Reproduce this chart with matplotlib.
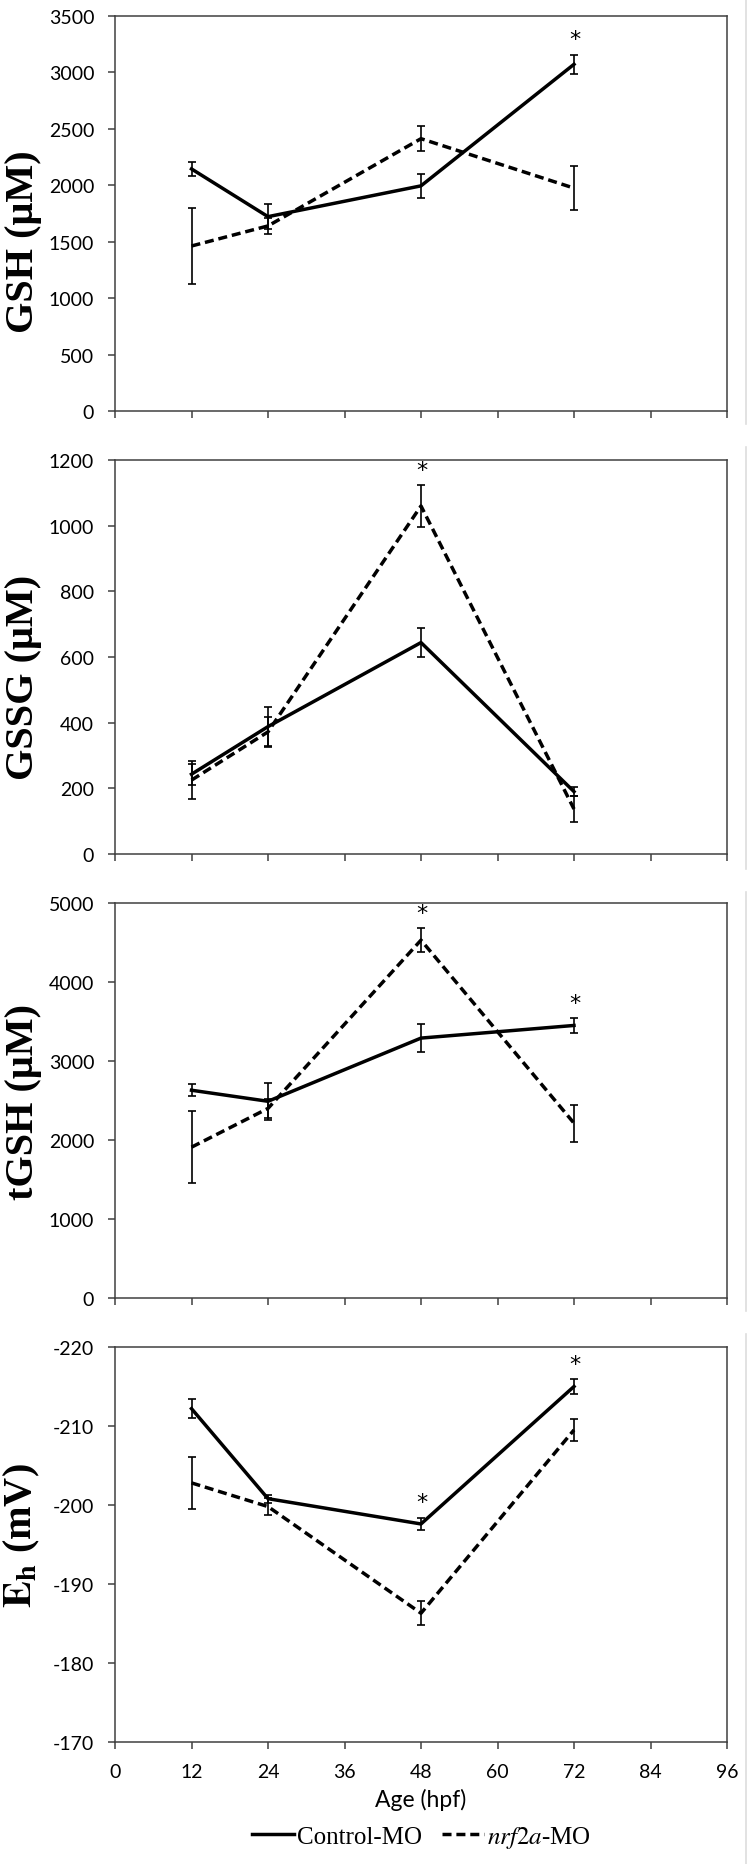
import matplotlib
matplotlib.use("Agg")
import matplotlib.pyplot as plt
from matplotlib.lines import Line2D

plt.rcParams['mathtext.fontset'] = 'stix'

# hours post fertilization
ages = [12, 24, 48, 72]

# GSH (uM)
gsh_ctrl = [2145, 1722, 1995, 3072]
gsh_ctrl_err = [65, 110, 105, 85]
gsh_nrf = [1462, 1640, 2413, 1975]
gsh_nrf_err = [340, 70, 113, 198]

# GSSG (uM)
gssg_ctrl = [243, 388, 644, 190]
gssg_ctrl_err = [32, 60, 44, 13]
gssg_nrf = [225, 372, 1060, 137]
gssg_nrf_err = [58, 45, 63, 40]

# tGSH (uM)
tgsh_ctrl = [2630, 2490, 3290, 3450]
tgsh_ctrl_err = [76, 235, 180, 93]
tgsh_nrf = [1909, 2400, 4530, 2213]
tgsh_nrf_err = [452, 120, 150, 232]

# Eh (mV)
eh_ctrl = [-212.2, -200.8, -197.6, -215.0]
eh_ctrl_err = [1.2, 0.5, 0.75, 0.9]
eh_nrf = [-202.8, -199.8, -186.3, -209.5]
eh_nrf_err = [3.3, 1.1, 1.5, 1.4]

# significance marks: (age, which series)
gsh_sig = [(72, 'ctrl')]
gssg_sig = [(48, 'nrf')]
tgsh_sig = [(48, 'nrf'), (72, 'ctrl')]
eh_sig = [(48, 'ctrl'), (72, 'ctrl')]

xticks = [0, 12, 24, 36, 48, 60, 72, 84, 96]

W, H = 750, 1865
fig = plt.figure(figsize=(W / 100, H / 100), dpi=100)

tickfont = ['Lato', 'DejaVu Sans']
labelfont = ['Liberation Serif', 'DejaVu Serif']
spine_col = '#404040'

panels = [
    # top_px, bottom_px, ctrl, ctrl_err, nrf, nrf_err, ylim, yticks, label, label_y, sig
    (17, 412, gsh_ctrl, gsh_ctrl_err, gsh_nrf, gsh_nrf_err, (0, 3500),
     range(0, 3501, 500), 'GSH (μM)', 0.43, gsh_sig),
    (461, 855, gssg_ctrl, gssg_ctrl_err, gssg_nrf, gssg_nrf_err, (0, 1200),
     range(0, 1201, 200), 'GSSG (μM)', 0.45, gssg_sig),
    (904, 1299, tgsh_ctrl, tgsh_ctrl_err, tgsh_nrf, tgsh_nrf_err, (0, 5000),
     range(0, 5001, 1000), 'tGSH (μM)', 0.50, tgsh_sig),
    (1348, 1743, eh_ctrl, eh_ctrl_err, eh_nrf, eh_nrf_err, (-170, -220),
     range(-220, -169, 10), r'$\mathbf{E}_\mathbf{h}$ (mV)', 0.525, eh_sig),
]

left_px, right_px = 115, 727
axes = []
for i, (top, bot, c, ce, n, ne, ylim, yt, lab, ly, sig) in enumerate(panels):
    ax = fig.add_axes([left_px / W, 1 - bot / H, (right_px - left_px) / W, (bot - top) / H])
    axes.append(ax)
    l1, = ax.plot(ages, c, color='black', lw=2.5, label='Control-MO')
    l2, = ax.plot(ages, n, color='black', lw=2.5, ls=(0, (2.6, 1.4)), label=r'$\mathit{nrf2a}$-MO')
    ax.errorbar(ages, c, yerr=ce, fmt='none', ecolor='black', elinewidth=1.2, capsize=2.6, capthick=1.2)
    ax.errorbar(ages, n, yerr=ne, fmt='none', ecolor='black', elinewidth=1.2, capsize=2.6, capthick=1.2)

    ax.set_xlim(0, 96)
    ax.set_ylim(*ylim)
    ax.set_xticks(xticks)
    ax.set_yticks(list(yt))
    ax.set_yticklabels([str(v) for v in yt], family=tickfont, fontsize=14)
    ax.tick_params(direction='out', length=5, width=1.1, color=spine_col, pad=10)
    if i < 3:
        ax.set_xticklabels([])
    else:
        ax.set_xticklabels([str(v) for v in xticks], family=tickfont, fontsize=14)
        ax.set_xlabel('Age (hpf)', family=tickfont, fontsize=16.5, labelpad=6)
    for sp in ax.spines.values():
        sp.set_color(spine_col)
        sp.set_linewidth(1.1)

    ax.set_ylabel(lab, family=labelfont, fontweight='bold', fontsize=29)
    ax.yaxis.set_label_coords(-0.12, ly)

    inverted = ylim[0] > ylim[1]
    for age, which in sig:
        k = ages.index(age)
        vals, errs = (c, ce) if which == 'ctrl' else (n, ne)
        ytop = vals[k] - errs[k] if inverted else vals[k] + errs[k]
        ax.annotate('*', xy=(age, ytop), xytext=(1, 4), textcoords='offset points',
                    ha='center', va='bottom', fontsize=16, family='DejaVu Sans')

axes[-1].legend(handles=[l1, l2], loc='center', bbox_to_anchor=(0.5, -0.24),
                ncol=2, frameon=False, handlelength=1.7, handletextpad=0.1,
                columnspacing=0.8, prop={'family': labelfont, 'size': 18})

# faint border lines at right of each panel
for y0, y1 in [(0, 425), (448, 870), (893, 1312), (1335, 1865)]:
    fig.add_artist(Line2D([746 / W, 746 / W], [1 - y0 / H, 1 - y1 / H],
                          transform=fig.transFigure, color='#dddddd', lw=1.2))

fig.savefig('out.png', dpi=100)
